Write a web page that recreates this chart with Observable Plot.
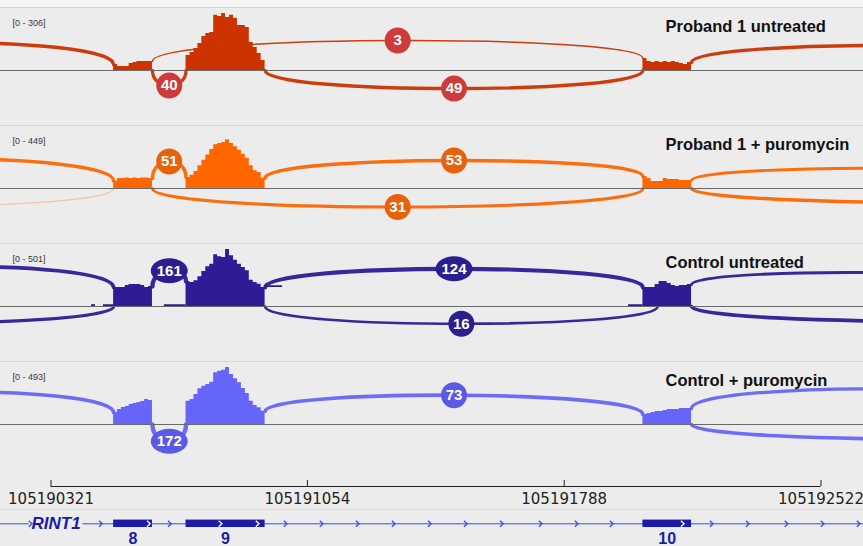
<!DOCTYPE html>
<html><head><meta charset="utf-8">
<script src="https://cdn.jsdelivr.net/npm/d3@7"></script>
<script src="https://cdn.jsdelivr.net/npm/@observablehq/plot@0.6"></script>
<style>
html,body{margin:0;padding:0;background:#ececec;}
#wrap{width:863px;height:546px;overflow:hidden;background:#ececec;}
.strip{height:7px;background:#f4f4f4;}
.panel{border-top:1px solid #d3d3db;}
.gene{border-top:1px solid #dadada;}
svg{display:block;overflow:hidden;}
</style></head><body><div id="wrap"><div class="strip"></div></div>
<script>
// ---------- data ----------
const axisTicks = [105190321, 105191054, 105191788, 105192522];
const exonIds = ["8", "9", "10"];
const exonStarts = [105190500, 105190707, 105192013];
const exonEnds = [105190611, 105190933, 105192152];
const geneName = "RINT1";
const sampleNames = ["Proband 1 untreated", "Proband 1 + puromycin", "Control untreated", "Control + puromycin"];
const dataRanges = [306, 449, 501, 493];

// coverage per exon (reads per bin, bins evenly spanning each exon)
const p1Exon8 = [32, 21, 21, 21, 38, 43, 48, 48, 48, 48];
const p1Exon9 = [81, 97, 118, 145, 183, 199, 204, 296, 290, 306, 285, 296, 280, 242, 242, 231, 150, 124, 91, 54];
const p1Exon10 = [64, 48, 43, 48, 43, 48, 43, 48, 43, 38, 32, 43];
const p2Exon8 = [60, 79, 79, 83, 79, 83, 79, 83, 83, 79];
const p2Exon9 = [87, 105, 134, 179, 223, 263, 307, 344, 355, 362, 384, 355, 329, 302, 270, 239, 179, 139, 126, 81];
const p2Exon10 = [95, 79, 55, 55, 55, 79, 71, 71, 71, 63, 63, 63];
const p3Exon8 = [167, 167, 167, 185, 193, 193, 193, 185, 167, 176];
const p3Exon9 = [220, 211, 226, 261, 308, 349, 372, 454, 437, 431, 501, 446, 407, 372, 343, 314, 231, 211, 196, 167];
const p3Exon10 = [167, 167, 167, 193, 220, 220, 202, 185, 176, 185, 185, 193];
const p4Exon8 = [104, 130, 147, 156, 173, 182, 190, 199, 216, 208];
const p4Exon9 = [202, 216, 260, 309, 331, 346, 366, 447, 461, 470, 493, 433, 395, 361, 311, 268, 202, 164, 144, 115];
const p4Exon10 = [87, 95, 104, 112, 112, 121, 130, 130, 130, 138, 138, 138];
// low intronic coverage (control untreated)
const p3LowCoverage = [
  {start: 105190437, end: 105190448, value: 16},
  {start: 105190471, end: 105190500, value: 16},
  {start: 105190645, end: 105190707, value: 16},
  {start: 105190933, end: 105190983, value: 16},
  {start: 105191972, end: 105192013, value: 16}
];

// junctions: side 1 = drawn above, -1 = below; apex = arc height in reads
const p1Junctions = [
  {start: 105189480, end: 105190500, depth: 50, side: 1, apex: 150},
  {start: 105190611, end: 105192013, depth: 3, side: 1, apex: 161},
  {start: 105190611, end: 105190707, depth: 40, side: -1, apex: -81},
  {start: 105190933, end: 105192013, depth: 49, side: -1, apex: -97},
  {start: 105192152, end: 105193400, depth: 50, side: 1, apex: 134}
];
const p2Junctions = [
  {start: 105189480, end: 105190500, depth: 50, side: 1, apex: 232},
  {start: 105189200, end: 105190500, depth: 2, side: -1, apex: -144},
  {start: 105190611, end: 105190707, depth: 51, side: 1, apex: 213},
  {start: 105190933, end: 105192013, depth: 53, side: 1, apex: 221},
  {start: 105190611, end: 105192013, depth: 31, side: -1, apex: -146},
  {start: 105192152, end: 105193400, depth: 25, side: 1, apex: 159},
  {start: 105192152, end: 105193700, depth: 50, side: -1, apex: -113}
];
const p3Junctions = [
  {start: 105189480, end: 105190500, depth: 65, side: 1, apex: 346},
  {start: 105189200, end: 105190500, depth: 40, side: -1, apex: -151},
  {start: 105190611, end: 105190707, depth: 161, side: 1, apex: 314},
  {start: 105190933, end: 105192013, depth: 124, side: 1, apex: 331},
  {start: 105190933, end: 105192055, depth: 16, side: -1, apex: -152},
  {start: 105192152, end: 105193400, depth: 25, side: 1, apex: 292},
  {start: 105192152, end: 105193700, depth: 65, side: -1, apex: -134}
];
const p4Junctions = [
  {start: 105189480, end: 105190500, depth: 65, side: 1, apex: 280},
  {start: 105190611, end: 105190707, depth: 172, side: -1, apex: -145},
  {start: 105190933, end: 105192013, depth: 73, side: 1, apex: 253},
  {start: 105192152, end: 105193400, depth: 40, side: 1, apex: 306},
  {start: 105192152, end: 105193700, depth: 65, side: -1, apex: -130}
];
const strandArrows = [105190262, 105190463, 105190600, 105190660, 105190805, 105190911, 105190991,
  105191094, 105191197, 105191300, 105191403, 105191506, 105191609, 105191720, 105191823, 105191923,
  105192126, 105192209, 105192312, 105192423, 105192526, 105192629];

// ---------- styles ----------
const lineColors = ["#cc3300", "#ff6600", "#2e1b96", "#6565fa"];
const badgeColors = ["#cf3b3b", "#e8620c", "#2b1f8f", "#5a5ae6"];
const geneDark = "#1c1ca8", geneLine = "#3b4cf0";
const FONT = "Liberation Sans, Arial, Helvetica, sans-serif";
const arcWidth = depth => Math.min(4.5, 0.5 + 0.75 * Math.log(1 + depth));

const samples = [
  {exons: [p1Exon8, p1Exon9, p1Exon10], low: [], junctions: p1Junctions},
  {exons: [p2Exon8, p2Exon9, p2Exon10], low: [], junctions: p2Junctions},
  {exons: [p3Exon8, p3Exon9, p3Exon10], low: p3LowCoverage, junctions: p3Junctions},
  {exons: [p4Exon8, p4Exon9, p4Exon10], low: [], junctions: p4Junctions}
];

const xScale = {domain: [axisTicks[0], axisTicks[axisTicks.length - 1]], range: [50.5, 820.5], axis: null};
const bpPerPx = (axisTicks[3] - axisTicks[0]) / 770;
const visibleDomain = [axisTicks[0] - 50.5 * bpPerPx, axisTicks[3] + 42.5 * bpPerPx];

// cubic Bezier curve from 4 points
function bezierCurve(context) {
  let pts = [];
  return {
    areaStart() {}, areaEnd() {},
    lineStart() { pts = []; },
    point(x, y) { pts.push([+x, +y]); },
    lineEnd() {
      if (pts.length === 4) {
        context.moveTo(pts[0][0], pts[0][1]);
        context.bezierCurveTo(pts[1][0], pts[1][1], pts[2][0], pts[2][1], pts[3][0], pts[3][1]);
      } else {
        pts.forEach((p, i) => i ? context.lineTo(p[0], p[1]) : context.moveTo(p[0], p[1]));
      }
    }
  };
}
const ellipseSymbol = {draw(ctx) {
  const rx = 18.5, ry = 12.5, k = 0.5523;
  ctx.moveTo(rx, 0);
  ctx.bezierCurveTo(rx, ry * k, rx * k, ry, 0, ry);
  ctx.bezierCurveTo(-rx * k, ry, -rx, ry * k, -rx, 0);
  ctx.bezierCurveTo(-rx, -ry * k, -rx * k, -ry, 0, -ry);
  ctx.bezierCurveTo(rx * k, -ry, rx, -ry * k, rx, 0);
  ctx.closePath();
}};
const chevronSymbol = {draw(ctx) { ctx.moveTo(-1.6, -3); ctx.lineTo(1.6, 0); ctx.lineTo(-1.6, 3); }};

function coverageRows(exons, low) {
  const rows = [];
  exons.forEach((vals, k) => {
    const s = exonStarts[k], e = exonEnds[k], w = (e - s) / vals.length;
    vals.forEach((v, i) => rows.push({x: s + i * w, y: v, seg: "e" + k}));
    rows.push({x: e, y: vals[vals.length - 1], seg: "e" + k});
  });
  low.forEach((L, i) => {
    rows.push({x: L.start, y: L.value, seg: "l" + i});
    rows.push({x: L.end, y: L.value, seg: "l" + i});
  });
  return rows;
}
function coverageAt(exons, pos) {
  for (let k = 0; k < exons.length; k++) {
    if (pos === exonStarts[k]) return exons[k][0];
    if (pos === exonEnds[k]) return exons[k][exons[k].length - 1];
  }
  return 0;
}
function arcPoints(j, exons) {
  const y1 = j.side > 0 ? coverageAt(exons, j.start) : 0;
  const y2 = j.side > 0 ? coverageAt(exons, j.end) : 0;
  const c = (j.apex - (y1 + y2) / 8) / 0.75;
  return [{x: j.start, y: y1}, {x: j.start, y: c}, {x: j.end, y: c}, {x: j.end, y: y2}];
}

const wrap = document.getElementById("wrap");

samples.forEach((s, p) => {
  const max = dataRanges[p];
  const color = lineColors[p], badge = badgeColors[p];
  const labels = s.junctions
    .map(j => ({...j, mx: (j.start + j.end) / 2}))
    .filter(j => j.mx > visibleDomain[0] && j.mx < visibleDomain[1]);
  const svg = Plot.plot({
    width: 863, height: 117, margin: 0,
    x: xScale,
    y: {domain: [0, max], range: [62, 5], axis: null},
    style: {background: "transparent", overflow: "hidden"},
    marks: [
      ...s.junctions.map(j => Plot.line(arcPoints(j, s.exons), {
        x: "x", y: "y", curve: bezierCurve, stroke: color,
        strokeWidth: arcWidth(j.depth),
        strokeOpacity: j.depth <= 2 ? 0.3 : 0.95
      })),
      Plot.areaY(coverageRows(s.exons, s.low), {x: "x", y: "y", z: "seg", curve: "step-after", fill: color}),
      Plot.ruleY([0], {stroke: "#6a6a6a", strokeWidth: 1}),
      Plot.dot(labels.filter(d => d.depth < 100), {x: "mx", y: "apex", r: 13, fill: badge}),
      Plot.dot(labels.filter(d => d.depth >= 100), {x: "mx", y: "apex", r: 13, symbol: ellipseSymbol, fill: badge}),
      Plot.text(labels, {x: "mx", y: "apex", text: d => String(d.depth), fill: "white",
        fontWeight: "bold", fontSize: 15, fontFamily: FONT}),
      Plot.text([`[0 - ${max}]`], {frameAnchor: "top-left", lineAnchor: "middle", dx: 12, dy: 15,
        textAnchor: "start", fontSize: 9, fill: "#3a3a3a", fontFamily: FONT}),
      Plot.text([sampleNames[p]], {frameAnchor: "top-left", lineAnchor: "middle", dx: 665, dy: 18,
        textAnchor: "start", fontSize: 16.5, fontWeight: "bold", fill: "#111", fontFamily: FONT})
    ]
  });
  const d = document.createElement("div");
  d.className = "panel";
  d.appendChild(svg);
  wrap.appendChild(d);
});

// genomic axis
const axisSvg = Plot.plot({
  width: 863, height: 30, margin: 0,
  x: xScale,
  y: {domain: [0, 1], range: [7, 1], axis: null},
  style: {background: "transparent", overflow: "hidden"},
  marks: [
    Plot.ruleY([0], {x1: axisTicks[0], x2: axisTicks[axisTicks.length - 1], stroke: "#222"}),
    Plot.ruleX(axisTicks, {y1: 0, y2: 1, stroke: "#222"}),
    Plot.text(axisTicks, {x: d => d, y: 0, dy: 13, text: d => String(d),
      fontFamily: "DejaVu Sans, sans-serif", fontSize: 15, fill: "#222"})
  ]
});
const ad = document.createElement("div");
ad.appendChild(axisSvg);
wrap.appendChild(ad);

// gene track
const exonRows = exonIds.map((id, k) => ({id, start: exonStarts[k], end: exonEnds[k]}));
const inExon = g => exonRows.some(e => g > e.start && g < e.end);
const geneSvg = Plot.plot({
  width: 863, height: 36, margin: 0,
  x: xScale,
  y: {domain: [-1, 1], range: [26.6, 0], axis: null},
  style: {background: "transparent", overflow: "hidden"},
  marks: [
    Plot.ruleY([0], {stroke: geneLine, strokeWidth: 1}),
    Plot.rect(exonRows, {x1: "start", x2: "end", y1: -0.28, y2: 0.28, fill: geneDark}),
    Plot.text([geneName], {frameAnchor: "left", dx: 31, y: 0, textAnchor: "start", fontStyle: "italic",
      fontWeight: "bold", fontSize: 17, fill: geneDark, stroke: "#ececec", strokeWidth: 8,
      paintOrder: "stroke", fontFamily: FONT}),
    Plot.dot(strandArrows, {x: d => d, y: 0, symbol: chevronSymbol, r: 3, fill: "none",
      stroke: d => inExon(d) ? "#ffffff" : geneLine, strokeWidth: 1.3}),
    Plot.text(exonRows, {x: d => (d.start + d.end) / 2, y: 0, dy: 15, text: "id",
      fontWeight: "bold", fontSize: 16, fill: geneDark, fontFamily: FONT})
  ]
});
const gd = document.createElement("div");
gd.className = "gene";
gd.appendChild(geneSvg);
wrap.appendChild(gd);
</script></body></html>
